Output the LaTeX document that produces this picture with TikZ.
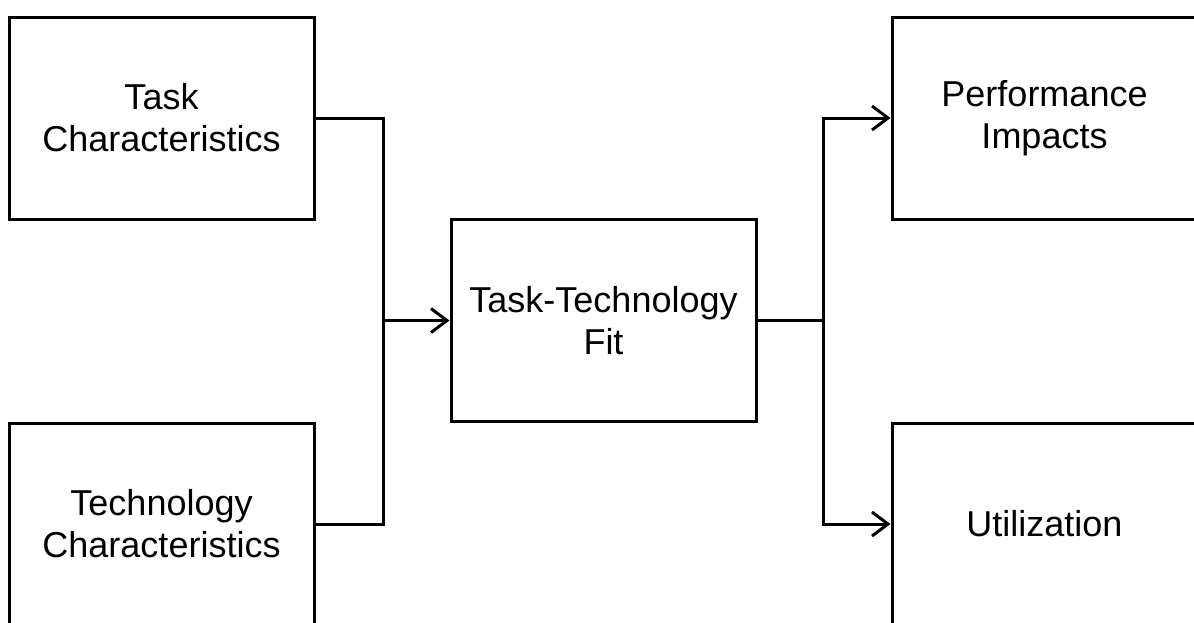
\documentclass[tikz,border=0pt]{standalone}
\usepackage{fontspec}
\setmainfont{Liberation Sans}
\usetikzlibrary{arrows.meta}

\begin{document}
\begin{tikzpicture}[
    x=1pt, y=-1pt,
    >={Straight Barb[length=16pt, width=24pt, line width=3pt]},
    line width=3pt,
    factorbox/.style={draw, line width=3pt, align=center, inner sep=0pt, minimum width=305pt, minimum height=202pt, font=\fontsize{36}{42}\selectfont},
]

\useasboundingbox (0,0) rectangle (1194,622);

\node[factorbox] (taskchar) at (161.5, 118) {Task\\Characteristics};
\node[factorbox] (techchar) at (161.5, 524) {Technology\\Characteristics};

\node[factorbox] (ttfit) at (603.5, 320.5) {Task-Technology\\Fit};

\node[factorbox] (perfimpact) at (1044.5, 118) {Performance\\Impacts};
\node[factorbox] (utilization) at (1044.5, 524) {Utilization};

\coordinate (joinin) at (383, 320.5);
\coordinate (splitout) at (823, 320.5);

\draw (taskchar.east) -| (joinin);
\draw (techchar.east) -| (joinin);
\draw[->] (joinin) -- (ttfit.west);

\draw (ttfit.east) -- (splitout);
\draw[->] (splitout) |- (perfimpact.west);
\draw[->] (splitout) |- (utilization.west);

\end{tikzpicture}
\end{document}
